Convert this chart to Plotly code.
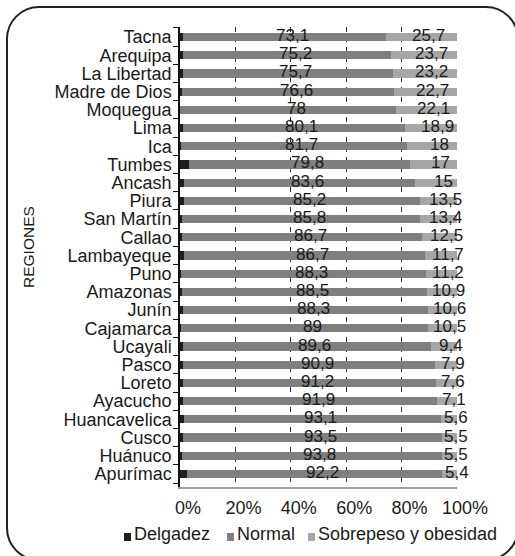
import plotly.graph_objects as go

# Estado nutricional por región (%)
regiones = ["Tacna", "Arequipa", "La Libertad", "Madre de Dios", "Moquegua", "Lima", "Ica",
            "Tumbes", "Ancash", "Piura", "San Martín", "Callao", "Lambayeque", "Puno",
            "Amazonas", "Junín", "Cajamarca", "Ucayali", "Pasco", "Loreto", "Ayacucho",
            "Huancavelica", "Cusco", "Huánuco", "Apurímac"]
delgadez = [1.2, 1.1, 1.1, 0.7, 0.0, 1.0, 0.3, 3.2, 1.4, 1.3, 0.8, 0.8, 1.6, 0.5,
            0.6, 1.1, 0.5, 1.0, 1.2, 1.2, 1.0, 1.3, 1.0, 0.7, 2.4]
normal = [73.1, 75.2, 75.7, 76.6, 78, 80.1, 81.7, 79.8, 83.6, 85.2, 85.8, 86.7, 86.7, 88.3,
          88.5, 88.3, 89, 89.6, 90.9, 91.2, 91.9, 93.1, 93.5, 93.8, 92.2]
sobrepeso = [25.7, 23.7, 23.2, 22.7, 22.1, 18.9, 18, 17, 15, 13.5, 13.4, 12.5, 11.7, 11.2,
             10.9, 10.6, 10.5, 9.4, 7.9, 7.6, 7.1, 5.6, 5.5, 5.5, 5.4]
x_ticks = [0, 20, 40, 60, 80, 100]
x_tick_text = ["0%", "20%", "40%", "60%", "80%", "100%"]

W, H = 515, 556
ML, MR, MT, MB = 180, 58, 27, 69
PW, PH = W - ML - MR, H - MT - MB

def fx(px):
    return (px - ML) / PW

def fy(py):
    return (H - MB - py) / PH

FONT = "Liberation Sans, Arial, sans-serif"
C_DEL, C_NOR, C_SOB = "#1e1e1e", "#7f7f7f", "#a6a6a6"
BAR_W = 0.45

fig = go.Figure()
for name, vals, col in [("Delgadez", delgadez, C_DEL), ("Normal", normal, C_NOR),
                        ("Sobrepeso y obesidad", sobrepeso, C_SOB)]:
    fig.add_trace(go.Bar(y=regiones, x=vals, name=name, orientation="h",
                         marker=dict(color=col, line=dict(width=0)),
                         width=BAR_W, showlegend=False, hoverinfo="skip"))

annotations = []
for r, d, n, s in zip(regiones, delgadez, normal, sobrepeso):
    annotations.append(dict(x=d + n / 2, y=r, xref="x", yref="y", text=f"{n:g}".replace(".", ","),
                            showarrow=False, xshift=8, yshift=1.5,
                            font=dict(family=FONT, size=17, color="#1a1a1a")))
    annotations.append(dict(x=d + n + s / 2, y=r, xref="x", yref="y", text=f"{s:g}".replace(".", ","),
                            showarrow=False, xshift=7, yshift=1.5,
                            font=dict(family=FONT, size=17, color="#1a1a1a")))

# axis title
annotations.append(dict(x=fx(28), y=fy(247), xref="paper", yref="paper", text="REGIONES",
                        textangle=-90, showarrow=False, xanchor="center", yanchor="middle",
                        font=dict(family=FONT, size=15.5, color="#1a1a1a")))

# legend entries
shapes = []
legend_items = [("Delgadez", C_DEL, 124), ("Normal", C_NOR, 227), ("Sobrepeso y obesidad", C_SOB, 308)]
for label, col, x0 in legend_items:
    shapes.append(dict(type="rect", xref="paper", yref="paper",
                       x0=fx(x0), x1=fx(x0 + 7), y0=fy(541), y1=fy(533),
                       fillcolor=col, line=dict(width=0)))
    annotations.append(dict(x=fx(x0 + 8), y=fy(534), xref="paper", yref="paper", text=label,
                            showarrow=False, xanchor="left", yanchor="middle",
                            font=dict(family=FONT, size=18, color="#1a1a1a")))

# rounded frame
x0, x1, y0, y1, rad = 7, 518, 7, 560, 32
k = 0.5523 * rad
def P(px, py):
    return f"{fx(px):.5f},{fy(py):.5f}"
path = (f"M {P(x0 + rad, y0)} L {P(x1 - rad, y0)} "
        f"C {P(x1 - rad + k, y0)} {P(x1, y0 + rad - k)} {P(x1, y0 + rad)} "
        f"L {P(x1, y1 - rad)} "
        f"C {P(x1, y1 - rad + k)} {P(x1 - rad + k, y1)} {P(x1 - rad, y1)} "
        f"L {P(x0 + rad, y1)} "
        f"C {P(x0 + rad - k, y1)} {P(x0, y1 - rad + k)} {P(x0, y1 - rad)} "
        f"L {P(x0, y0 + rad)} "
        f"C {P(x0, y0 + rad - k)} {P(x0 + rad - k, y0)} {P(x0 + rad, y0)} Z")
shapes.append(dict(type="path", xref="paper", yref="paper", path=path,
                   line=dict(color="#222222", width=2), fillcolor="rgba(0,0,0,0)"))

fig.update_layout(
    width=W, height=H,
    margin=dict(l=ML, r=MR, t=MT, b=MB, pad=0),
    barmode="stack",
    paper_bgcolor="white", plot_bgcolor="white",
    font=dict(family=FONT, size=18, color="#1a1a1a"),
    annotations=annotations, shapes=shapes,
    xaxis=dict(range=[0, 100], tickvals=x_ticks, ticktext=x_tick_text,
               showgrid=False, zeroline=False, showline=True, linecolor="#a0a0a0", linewidth=1.5,
               ticks="", ticklabelshift=8, ticklabelstandoff=4,
               tickfont=dict(family=FONT, size=18, color="#1a1a1a"),
               minor=dict(tickvals=[20, 40, 60, 80], showgrid=True, gridcolor="#333333",
                          gridwidth=1, griddash="5px,5px", ticks=""),
               fixedrange=True),
    yaxis=dict(categoryorder="array", categoryarray=regiones, autorange="reversed",
               tickmode="array", tickvals=regiones, ticktext=regiones,
               showline=True, linecolor="#111111", linewidth=1.5,
               ticks="outside", ticklen=5, tickcolor="#111111", tickson="boundaries",
               ticklabelstandoff=3,
               showgrid=False, zeroline=False,
               tickfont=dict(family=FONT, size=18, color="#1a1a1a"),
               fixedrange=True),
)

fig.write_html("out.html")
